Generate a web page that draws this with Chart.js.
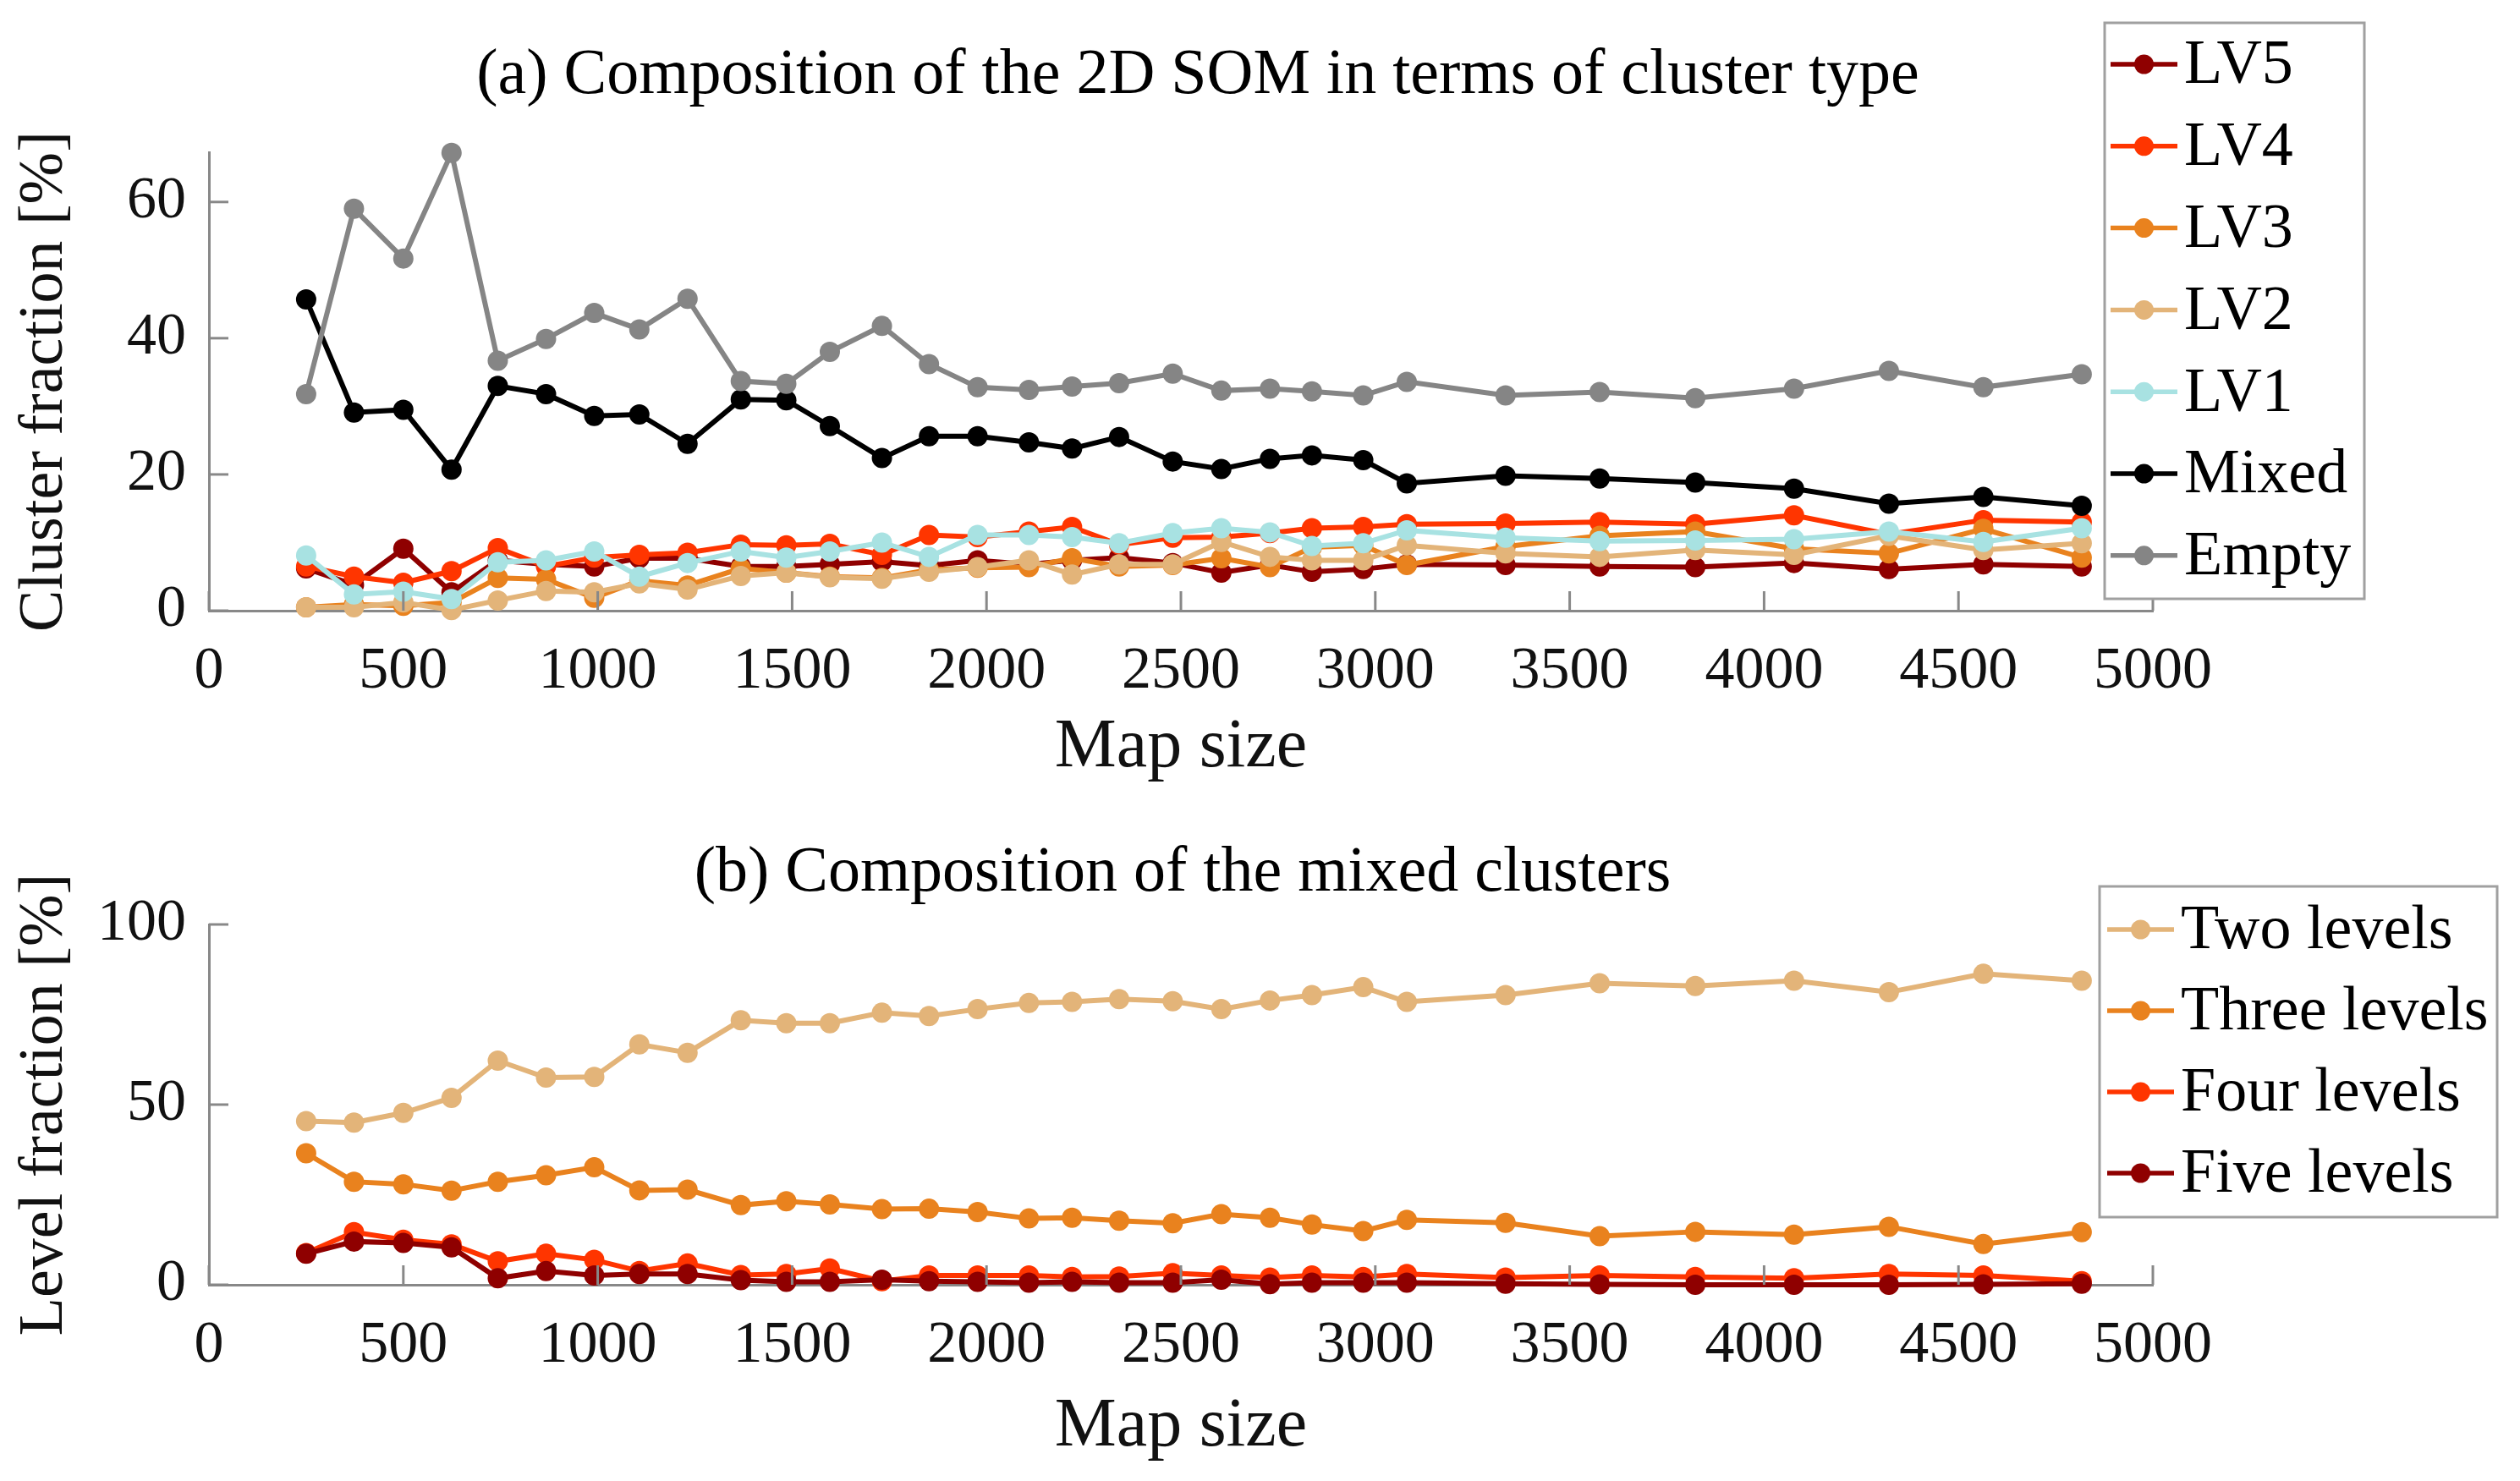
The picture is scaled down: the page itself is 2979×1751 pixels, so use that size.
<!DOCTYPE html>
<html><head><meta charset="utf-8">
<script src="https://cdn.jsdelivr.net/npm/chart.js@4"></script>
<style>
html,body{margin:0;padding:0;background:#fff;width:2979px;height:1751px;overflow:hidden}
canvas{position:absolute;left:0}
</style></head><body>
<canvas id="c1" width="2979" height="940" style="top:0"></canvas>
<canvas id="c2" width="2979" height="811" style="top:940px"></canvas>
<script>
// ---- data ----
const mapSize = [250, 373, 500, 624, 743, 867, 991, 1107, 1231, 1368, 1485, 1597, 1731, 1852, 1977, 2109, 2220, 2341, 2479, 2604, 2729, 2837, 2969, 3081, 3335, 3577, 3823, 4077, 4321, 4564, 4817];

const lv5 = [6.2, 3.8, 9.1, 2.7, 7.4, 6.8, 6.5, 7.7, 7.7, 6.5, 6.5, 6.8, 7.2, 6.6, 7.4, 6.8, 7.4, 7.8, 7.0, 5.6, 6.7, 5.7, 6.1, 6.8, 6.7, 6.5, 6.4, 7.0, 6.1, 6.8, 6.5];
const lv4 = [6.5, 5.0, 4.1, 5.8, 9.2, 6.5, 7.8, 8.2, 8.5, 9.7, 9.6, 9.8, 8.2, 11.1, 10.8, 11.6, 12.3, 9.7, 10.7, 10.8, 11.4, 12.1, 12.3, 12.7, 12.8, 13.0, 12.7, 14.0, 11.2, 13.3, 13.0];
const lv3 = [0.5, 0.9, 0.7, 1.2, 4.8, 4.6, 1.9, 4.4, 3.7, 6.2, 5.6, 5.0, 4.8, 6.0, 6.3, 6.4, 7.7, 6.5, 6.7, 7.7, 6.4, 9.3, 9.6, 6.7, 9.4, 11.0, 11.6, 9.1, 8.4, 12.0, 7.8];
const lv2 = [0.5, 0.5, 1.2, 0.1, 1.5, 2.9, 2.7, 4.0, 3.1, 5.1, 5.6, 4.9, 4.7, 5.7, 6.4, 7.4, 5.3, 6.8, 6.8, 10.1, 7.9, 7.4, 7.4, 9.6, 8.4, 7.9, 8.9, 8.2, 11.0, 8.9, 9.9];
const lv1 = [8.1, 2.4, 2.8, 1.7, 7.1, 7.4, 8.7, 5.0, 7.0, 8.7, 7.8, 8.7, 10.0, 7.9, 11.1, 11.1, 10.8, 9.9, 11.4, 12.1, 11.5, 9.5, 9.9, 11.8, 10.7, 10.2, 10.3, 10.5, 11.6, 10.1, 12.1];
const mixed = [45.7, 29.1, 29.5, 20.7, 33.0, 31.8, 28.6, 28.8, 24.5, 31.0, 30.9, 27.1, 22.4, 25.6, 25.6, 24.7, 23.8, 25.5, 21.9, 20.8, 22.3, 22.8, 22.1, 18.7, 19.8, 19.4, 18.8, 17.9, 15.7, 16.7, 15.4];
const empty = [31.8, 59.0, 51.7, 67.2, 36.7, 39.9, 43.7, 41.3, 45.8, 33.7, 33.3, 38.0, 41.8, 36.2, 32.8, 32.4, 32.9, 33.4, 34.8, 32.3, 32.6, 32.2, 31.6, 33.6, 31.6, 32.1, 31.2, 32.6, 35.2, 32.8, 34.7];

const twoLevels = [45.4, 45.0, 47.7, 51.9, 62.2, 57.5, 57.7, 66.7, 64.4, 73.4, 72.6, 72.6, 75.5, 74.6, 76.5, 78.2, 78.5, 79.3, 78.7, 76.5, 78.9, 80.4, 82.6, 78.5, 80.4, 83.7, 82.9, 84.4, 81.2, 86.3, 84.4];
const threeLevels = [36.5, 28.6, 27.9, 26.1, 28.6, 30.4, 32.6, 26.2, 26.4, 22.1, 23.2, 22.3, 21.0, 21.1, 20.2, 18.4, 18.6, 17.8, 17.1, 19.6, 18.6, 16.7, 14.9, 18.0, 17.2, 13.5, 14.7, 13.9, 16.1, 11.3, 14.6];
const fourLevels = [8.8, 14.6, 12.5, 11.2, 6.5, 8.6, 6.9, 3.8, 5.9, 2.7, 3.0, 4.5, 1.0, 2.6, 2.6, 2.6, 2.2, 2.3, 3.2, 2.6, 2.0, 2.6, 2.2, 3.0, 2.0, 2.6, 2.2, 1.8, 3.0, 2.6, 1.0];
const fiveLevels = [8.6, 12.0, 11.6, 10.4, 1.8, 3.8, 2.6, 3.0, 3.0, 1.3, 0.8, 0.8, 1.4, 1.0, 0.8, 0.6, 0.8, 0.6, 0.6, 1.4, 0.2, 0.6, 0.6, 0.6, 0.3, 0.1, 0.0, 0.0, 0.0, 0.1, 0.3];

const labelsA = ['LV5', 'LV4', 'LV3', 'LV2', 'LV1', 'Mixed', 'Empty'];
const labelsB = ['Two levels', 'Three levels', 'Four levels', 'Five levels'];
const xTicks = [0, 500, 1000, 1500, 2000, 2500, 3000, 3500, 4000, 4500, 5000];

// ---- styling ----
const FONT = '"Liberation Serif", "Times New Roman", serif';
const colA = ['#8f0000', '#ff3500', '#e9821e', '#e3b479', '#a8e2e2', '#000000', '#858585'];
const colB = ['#e3b479', '#e9821e', '#ff3500', '#8f0000'];

function pts(ys) { return ys.map((y, i) => ({x: mapSize[i], y: y})); }
function mkSets(labels, series, cols) {
  return labels.map((l, i) => ({
    label: l, data: pts(series[i]),
    borderColor: cols[i], backgroundColor: cols[i],
    pointBackgroundColor: cols[i], pointBorderColor: cols[i],
    borderWidth: 6, pointRadius: 12, pointBorderWidth: 0, pointHoverRadius: 12,
    tension: 0, order: 20 - i, clip: false
  }));
}

const decor = {
  id: 'decor',
  afterDraw(chart, args, o) {
    const ctx = chart.ctx;
    const xs = chart.scales.x, ys = chart.scales.y;
    ctx.save();
    // inward tick marks
    ctx.strokeStyle = '#888888'; ctx.lineWidth = 3;
    xs.ticks.forEach(t => {
      const px = xs.getPixelForValue(t.value);
      ctx.beginPath(); ctx.moveTo(px, xs.top); ctx.lineTo(px, xs.top - 23); ctx.stroke();
    });
    ys.ticks.forEach(t => {
      const py = ys.getPixelForValue(t.value);
      ctx.beginPath(); ctx.moveTo(ys.right, py); ctx.lineTo(ys.right + 23, py); ctx.stroke();
    });
    // title
    ctx.fillStyle = '#000';
    ctx.font = o.titleSize + 'px ' + FONT;
    ctx.textAlign = 'center'; ctx.textBaseline = 'middle';
    ctx.fillText(o.title, o.titleX, o.titleY);
    // legend
    const L = o.legend;
    ctx.fillStyle = '#fff';
    ctx.fillRect(L.x, L.y, L.w, L.h);
    ctx.strokeStyle = '#a0a0a0'; ctx.lineWidth = 3;
    ctx.strokeRect(L.x, L.y, L.w, L.h);
    ctx.font = L.size + 'px ' + FONT;
    ctx.textAlign = 'left'; ctx.textBaseline = 'middle';
    chart.data.datasets.forEach((ds, i) => {
      const y = L.y0 + i * L.dy;
      ctx.strokeStyle = ds.borderColor; ctx.lineWidth = 5.5;
      ctx.beginPath(); ctx.moveTo(L.l0, y); ctx.lineTo(L.l1, y); ctx.stroke();
      ctx.fillStyle = ds.borderColor;
      ctx.beginPath(); ctx.arc((L.l0 + L.l1) / 2, y, 11.5, 0, Math.PI * 2); ctx.fill();
      ctx.fillStyle = '#000';
      ctx.fillText(ds.label, L.tx, y + 3);
    });
    ctx.restore();
  }
};

function mkOptions(yMax, yStep, yTitle, xTitleBottomPad, padTop, xH, deco) {
  return {
    responsive: false, animation: false, devicePixelRatio: 1,
    layout: {padding: {left: 0, right: 434, top: padTop, bottom: 0}},
    plugins: {legend: {display: false}, tooltip: {enabled: false}, title: {display: false}, decor: deco},
    scales: {
      x: {
        type: 'linear', min: 0, max: 5000,
        afterBuildTicks: s => { s.ticks = xTicks.map(v => ({value: v})); },
        afterFit: s => { s.height = xH; },
        grid: {display: false},
        border: {display: true, color: '#888888', width: 3},
        ticks: {padding: 23, color: '#111', font: {family: FONT, size: 70}, maxRotation: 0, autoSkip: false,
                callback: v => String(v)},
        title: {display: true, text: 'Map size', color: '#111', font: {family: FONT, size: 82, lineHeight: 1}, padding: {top: 0, bottom: xTitleBottomPad}}
      },
      y: {
        type: 'linear', min: 0, max: yMax,
        afterFit: s => { s.width = 247; },
        grid: {display: false},
        border: {display: true, color: '#888888', width: 3},
        ticks: {stepSize: yStep, includeBounds: false, padding: 19, color: '#111', font: {family: FONT, size: 70},
                callback: v => String(v)},
        title: {display: true, text: yTitle, color: '#111', font: {family: FONT, size: 74, lineHeight: 1}, padding: {top: 17, bottom: 0}}
      }
    }
  };
}

new Chart(document.getElementById('c1'), {
  type: 'line',
  data: {datasets: mkSets(labelsA, [lv5, lv4, lv3, lv2, lv1, mixed, empty], colA)},
  options: mkOptions(67.3, 20, 'Cluster fraction [%]', 15, 180, 218, {
    title: '(a) Composition of the 2D SOM in terms of cluster type', titleX: 1416, titleY: 90, titleSize: 76,
    legend: {x: 2488, y: 27, w: 307, h: 681, y0: 76, dy: 96.8, l0: 2495, l1: 2574, tx: 2582, size: 74}
  }),
  plugins: [decor]
});

new Chart(document.getElementById('c2'), {
  type: 'line',
  data: {datasets: mkSets(labelsB, [twoLevels, threeLevels, fourLevels, fiveLevels], colB)},
  options: mkOptions(100, 50, 'Level fraction [%]', 23, 153, 232, {
    title: '(b) Composition of the mixed clusters', titleX: 1398, titleY: 93, titleSize: 76,
    legend: {x: 2482, y: 108, w: 470, h: 391, y0: 159, dy: 96, l0: 2491, l1: 2570, tx: 2578, size: 74}
  }),
  plugins: [decor]
});
</script>
</body></html>
